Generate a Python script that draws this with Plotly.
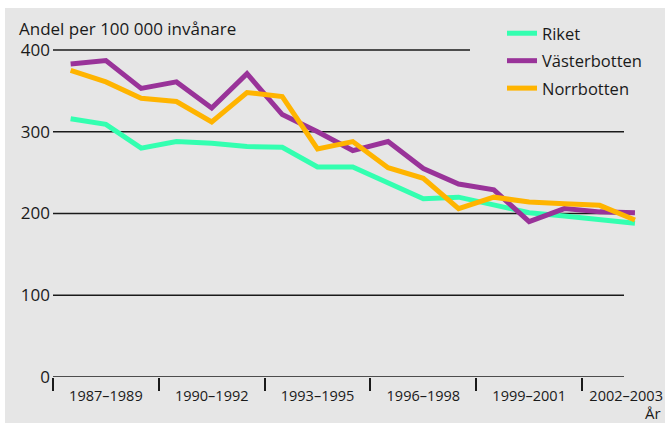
import plotly.graph_objects as go

years = list(range(1987, 2004))
riket = [316, 309, 280, 288, 286, 282, 281, 257, 257, 238, 218, 220, 211, 201, 197, 193, 188]
vasterbotten = [383, 387, 353, 361, 329, 371, 321, 300, 277, 288, 255, 236, 229, 190, 206, 202, 201]
norrbotten = [375, 361, 341, 337, 312, 348, 343, 279, 288, 256, 243, 206, 220, 214, 212, 210, 192]

period_labels = ["1987–1989", "1990–1992", "1993–1995", "1996–1998", "1999–2001", "2002–2003"]
period_centers = [1988, 1991, 1994, 1997, 2000, 2002.75]
period_bounds = [1986.5, 1989.5, 1992.5, 1995.5, 1998.5, 2001.5]
y_ticks = [0, 100, 200, 300, 400]

W, H = 665, 423
ML, MR, MT, MB = 53, 0, 20, 46
pw = W - ML - MR
ph = H - MT - MB
px_per_year = 35.27
px_per_unit = 0.8175
x_range = [period_bounds[0], period_bounds[0] + pw / px_per_year]
y_range = [0, ph / px_per_unit]

def px_to_xp(px):
    return (px - ML) / pw

def px_to_yp(py):
    return (H - MB - py) / ph

FONT = "Open Sans"
TXT = "#1a1a1a"
grid_end = period_bounds[0] + (624 - ML) / px_per_year
top_grid_end = period_bounds[0] + (470 - ML) / px_per_year

fig = go.Figure()
series = [("Riket", riket, "#33ffb0"), ("Västerbotten", vasterbotten, "#993399"), ("Norrbotten", norrbotten, "#ffb400")]
for name, vals, col in series:
    fig.add_trace(go.Scatter(x=years, y=vals, mode="lines", name=name,
                             line=dict(color=col, width=5), cliponaxis=False,
                             legendgroup=name))

shapes = [dict(type="rect", xref="paper", yref="paper", x0=px_to_xp(5), x1=px_to_xp(W + 2),
               y0=px_to_yp(H + 2), y1=px_to_yp(8), fillcolor="#e6e6e6",
               line=dict(width=0), layer="below")]
for v in y_ticks:
    shapes.append(dict(type="line", xref="x", yref="y", x0=period_bounds[0],
                       x1=top_grid_end if v == 400 else grid_end, y0=v, y1=v,
                       line=dict(color="#1a1a1a", width=1.6), layer="below"))
fig.update_layout(shapes=shapes)

fig.add_annotation(text="Andel per 100 000 invånare", xref="paper", yref="paper",
                   x=px_to_xp(17), y=px_to_yp(28), xanchor="left", yanchor="middle",
                   showarrow=False, font=dict(family=FONT, size=17, color=TXT))
fig.add_annotation(text="År", xref="paper", yref="paper",
                   x=px_to_xp(653), y=px_to_yp(413), xanchor="center", yanchor="middle",
                   showarrow=False, font=dict(family=FONT, size=15, color=TXT))

fig.update_layout(
    width=W, height=H,
    margin=dict(l=ML, r=MR, t=MT, b=MB, autoexpand=False),
    paper_bgcolor="white", plot_bgcolor="rgba(0,0,0,0)",
    font=dict(family=FONT, size=15, color=TXT),
    showlegend=True,
    legend=dict(x=px_to_xp(502), y=px_to_yp(16), xanchor="left", yanchor="top",
                bgcolor="rgba(0,0,0,0)", font=dict(family=FONT, size=16.5, color=TXT),
                tracegroupgap=3),
    xaxis=dict(range=x_range, showgrid=False, zeroline=False, showline=False,
               tickmode="array", tickvals=period_centers, ticktext=period_labels,
               ticks="", ticklabelstandoff=8, tickfont=dict(size=14.5),
               minor=dict(tickmode="array", tickvals=period_bounds, ticks="outside",
                          ticklen=13, tickwidth=1.5, tickcolor="#1a1a1a", showgrid=False)),
    yaxis=dict(range=y_range, showgrid=False, zeroline=False, showline=False,
               tickmode="array", tickvals=y_ticks, ticks="", ticklabelstandoff=2,
               tickfont=dict(size=17)),
)

fig.write_html(
    "out.html",
    config={"displayModeBar": False},
    post_script="document.documentElement.style.overflow='hidden';"
                "document.body.style.margin='0';document.body.style.overflow='hidden';",
)
